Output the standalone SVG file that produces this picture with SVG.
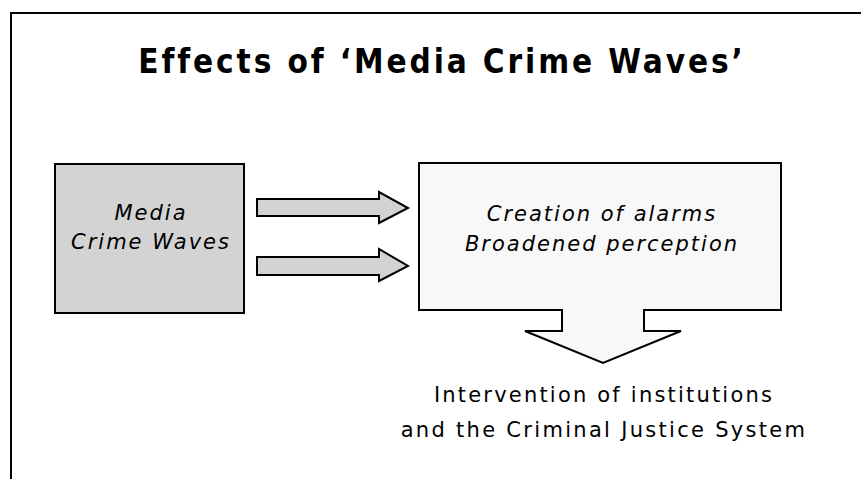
<svg xmlns="http://www.w3.org/2000/svg" width="861" height="479" viewBox="0 0 861 479">
<style>
.t{font-family:"DejaVu Sans",Verdana,sans-serif;fill:#000;text-anchor:middle}
.it{font-style:italic;font-size:21px;letter-spacing:2px}
.shape{stroke:#000;stroke-width:2}
</style>
<rect width="861" height="479" fill="#fff"/>
<path d="M11,479 V13 H861" fill="none" stroke="#000" stroke-width="2"/>
<text x="442" y="73" font-family="'DejaVu Sans Condensed','DejaVu Sans',sans-serif" font-size="33" font-weight="bold" letter-spacing="2.9" text-anchor="middle">Effects of ‘Media Crime Waves’</text>
<g id="media">
<rect class="shape" x="55" y="164" width="189" height="149" fill="#d3d3d3"/>
<text class="t it" x="151" y="220">Media</text>
<text class="t it" x="151" y="249">Crime Waves</text>
</g>
<g id="connectors">
<path class="shape" d="M257,199 H379 V192 L408,208 L379,223 V216 H257 Z" fill="#d3d3d3"/>
<path class="shape" d="M257,257 H379 V249 L408,266 L379,281 V275 H257 Z" fill="#d3d3d3"/>
</g>
<g id="alarms">
<path class="shape" d="M419,163 H781 V310 H644 V331 H681 L603,363 L525,331 H562 V310 H419 Z" fill="#f8f8f8"/>
<text class="t it" x="602" y="221">Creation of alarms</text>
<text class="t it" x="602" y="251">Broadened perception</text>
</g>
<g id="intervention">
<text class="t" x="604" y="402" font-size="21" letter-spacing="2.2">Intervention of institutions</text>
<text class="t" x="604" y="437" font-size="21" letter-spacing="2.3">and the Criminal Justice System</text>
</g>
</svg>
